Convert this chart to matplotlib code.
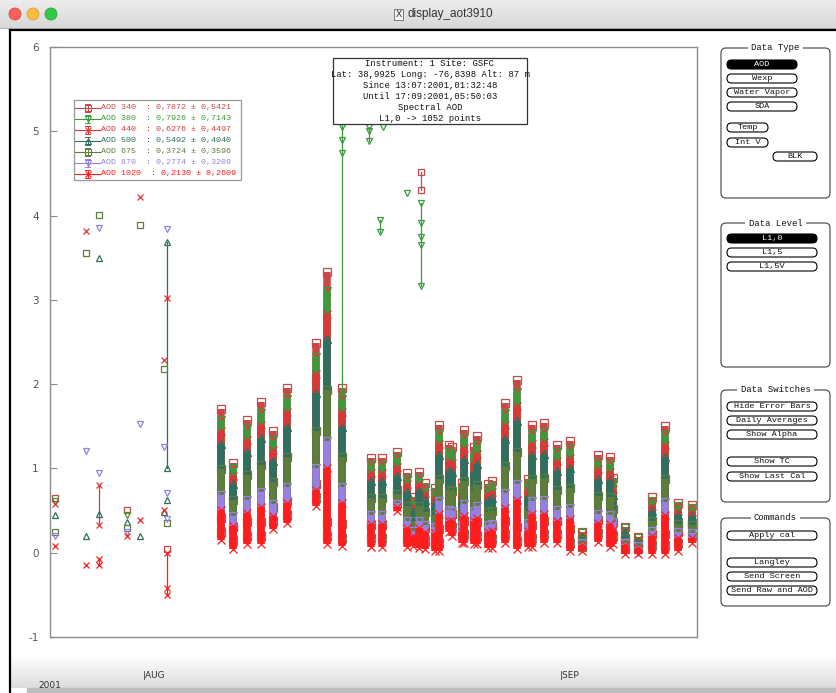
import numpy as np
import matplotlib.pyplot as plt
from matplotlib.patches import Rectangle, FancyBboxPatch, Circle
from matplotlib.colors import LinearSegmentedColormap
from matplotlib.transforms import blended_transform_factory

plt.rcParams['axes.unicode_minus'] = False

# channels, colours and markers as in the aot display
wavelengths = [340, 380, 440, 500, 675, 870, 1020]
colors = ['#c84848', '#3c9a3c', '#d83838', '#2f6f5f', '#5e7d3c', '#9880e0', '#ff1c1c']
markers = ['s', 'v', 'x', '^', 's', 'v', 'x']
aod_mean = [0.7872, 0.7926, 0.6276, 0.5492, 0.3724, 0.2774, 0.2130]
aod_std = [0.5421, 0.7143, 0.4497, 0.4040, 0.3596, 0.3209, 0.2609]

# day of year of each daily block of measurements (2001)
days = [218.80, 219.69, 220.73, 221.77, 222.67, 223.71, 225.86, 226.68, 227.80,
        229.95, 230.77, 231.88, 232.63, 233.07, 233.52, 233.97, 234.71, 235.01,
        235.75, 235.97, 236.72, 236.87, 237.61, 237.83, 238.65, 238.95, 239.91,
        240.81, 241.62, 241.92, 242.81, 243.78, 244.75, 245.64, 246.83, 247.72,
        247.94, 248.84, 249.80, 250.84, 251.81, 252.78, 253.82]

# highest aod of the day, per channel
top_340 = [1.70, 1.07, 1.58, 1.79, 1.44, 1.96, 2.49, 3.33, 1.96, 1.12, 1.12, 1.20, 0.95, 0.66, 0.96,
           0.83, 0.77, 1.52, 1.28, 1.26, 0.83, 1.46, 1.26, 1.38, 0.82, 0.85, 1.78, 2.05, 0.87, 1.52,
           1.54, 1.28, 1.32, 0.25, 1.16, 1.13, 0.89, 0.31, 0.19, 0.66, 1.50, 0.59, 0.57]
top_380 = [1.58, 1.00, 1.47, 1.66, 1.34, 1.82, 2.32, 3.10, 1.82, 1.04, 1.04, 1.12, 0.88, 0.61, 0.89,
           0.77, 0.72, 1.41, 1.19, 1.17, 0.77, 1.36, 1.17, 1.28, 0.76, 0.79, 1.66, 1.91, 0.81, 1.41,
           1.43, 1.19, 1.23, 0.23, 1.08, 1.05, 0.83, 0.29, 0.18, 0.61, 1.40, 0.55, 0.53]
top_440 = [1.45, 0.91, 1.34, 1.52, 1.22, 1.67, 2.12, 2.83, 1.67, 0.95, 0.95, 1.02, 0.81, 0.56, 0.82,
           0.71, 0.65, 1.29, 1.09, 1.07, 0.71, 1.24, 1.07, 1.17, 0.70, 0.72, 1.51, 1.74, 0.74, 1.29,
           1.31, 1.09, 1.12, 0.21, 0.99, 0.96, 0.76, 0.26, 0.16, 0.56, 1.28, 0.50, 0.48]
top_500 = [1.29, 0.81, 1.20, 1.36, 1.09, 1.49, 1.89, 2.53, 1.49, 0.85, 0.85, 0.91, 0.72, 0.50, 0.73,
           0.63, 0.59, 1.16, 0.97, 0.96, 0.63, 1.11, 0.96, 1.05, 0.62, 0.65, 1.35, 1.56, 0.66, 1.16,
           1.17, 0.97, 1.00, 0.19, 0.88, 0.86, 0.68, 0.24, 0.14, 0.50, 1.14, 0.45, 0.43]
top_675 = [0.99, 0.62, 0.92, 1.04, 0.84, 1.14, 1.44, 1.93, 1.14, 0.65, 0.65, 0.70, 0.55, 0.38, 0.56,
           0.48, 0.45, 0.88, 0.74, 0.73, 0.48, 0.85, 0.73, 0.80, 0.48, 0.49, 1.03, 1.19, 0.50, 0.88,
           0.89, 0.74, 0.77, 0.15, 0.67, 0.66, 0.52, 0.18, 0.11, 0.38, 0.87, 0.34, 0.33]
top_870 = [0.68, 0.43, 0.63, 0.72, 0.58, 0.78, 1.00, 1.33, 0.78, 0.45, 0.45, 0.58, 0.38, 0.26, 0.38,
           0.33, 0.31, 0.61, 0.51, 0.50, 0.33, 0.58, 0.50, 0.55, 0.33, 0.34, 0.71, 0.82, 0.35, 0.61,
           0.62, 0.51, 0.53, 0.11, 0.46, 0.45, 0.36, 0.12, 0.08, 0.26, 0.60, 0.24, 0.23]
top_1020 = [0.51, 0.32, 0.47, 0.54, 0.43, 0.59, 0.75, 1.00, 0.59, 0.34, 0.34, 0.54, 0.29, 0.20, 0.29,
            0.25, 0.23, 0.46, 0.38, 0.38, 0.25, 0.44, 0.38, 0.41, 0.25, 0.26, 0.53, 0.62, 0.26, 0.46,
            0.46, 0.38, 0.40, 0.09, 0.35, 0.34, 0.27, 0.09, 0.06, 0.20, 0.45, 0.18, 0.17]

# lowest aod of the day, per channel
low_340 = [0.41, 0.31, 0.36, 0.36, 0.54, 0.61, 0.81, 0.36, 0.34, 0.33, 0.33, 0.75, 0.33, 0.30, 0.32,
           0.29, 0.26, 0.28, 0.50, 0.46, 0.38, 0.38, 0.36, 0.36, 0.32, 0.32, 0.38, 0.30, 0.33, 0.33,
           0.38, 0.38, 0.28, 0.14, 0.39, 0.33, 0.36, 0.14, 0.10, 0.22, 0.22, 0.25, 0.35]
low_380 = [0.38, 0.28, 0.33, 0.33, 0.51, 0.58, 0.78, 0.33, 0.31, 0.30, 0.30, 0.72, 0.30, 0.28, 0.29,
           0.26, 0.23, 0.25, 0.47, 0.43, 0.35, 0.35, 0.33, 0.33, 0.29, 0.29, 0.35, 0.27, 0.30, 0.30,
           0.35, 0.35, 0.25, 0.13, 0.36, 0.30, 0.33, 0.12, 0.09, 0.19, 0.19, 0.22, 0.32]
low_440 = [0.34, 0.24, 0.29, 0.29, 0.47, 0.54, 0.74, 0.29, 0.27, 0.26, 0.26, 0.68, 0.26, 0.25, 0.25,
           0.23, 0.20, 0.21, 0.43, 0.39, 0.31, 0.31, 0.29, 0.29, 0.25, 0.25, 0.31, 0.23, 0.26, 0.26,
           0.31, 0.31, 0.21, 0.11, 0.32, 0.26, 0.29, 0.10, 0.08, 0.16, 0.16, 0.19, 0.28]
low_500 = [0.30, 0.20, 0.25, 0.25, 0.43, 0.50, 0.70, 0.25, 0.23, 0.22, 0.22, 0.64, 0.22, 0.21, 0.21,
           0.19, 0.16, 0.17, 0.39, 0.35, 0.27, 0.27, 0.25, 0.25, 0.21, 0.21, 0.27, 0.19, 0.22, 0.22,
           0.27, 0.27, 0.17, 0.09, 0.28, 0.22, 0.25, 0.08, 0.06, 0.13, 0.13, 0.16, 0.24]
low_675 = [0.25, 0.15, 0.20, 0.20, 0.38, 0.45, 0.65, 0.20, 0.18, 0.17, 0.17, 0.59, 0.17, 0.17, 0.16,
           0.14, 0.11, 0.12, 0.34, 0.30, 0.22, 0.22, 0.20, 0.20, 0.16, 0.16, 0.22, 0.14, 0.17, 0.17,
           0.22, 0.22, 0.12, 0.07, 0.23, 0.17, 0.20, 0.05, 0.04, 0.09, 0.09, 0.12, 0.20]
low_870 = [0.20, 0.10, 0.15, 0.15, 0.33, 0.40, 0.60, 0.15, 0.13, 0.12, 0.12, 0.54, 0.12, 0.12, 0.11,
           0.10, 0.07, 0.07, 0.29, 0.25, 0.17, 0.17, 0.15, 0.15, 0.11, 0.11, 0.17, 0.09, 0.12, 0.12,
           0.17, 0.17, 0.07, 0.04, 0.18, 0.12, 0.15, 0.02, 0.01, 0.04, 0.04, 0.07, 0.16]
low_1020 = [0.15, 0.05, 0.10, 0.10, 0.28, 0.35, 0.55, 0.10, 0.08, 0.07, 0.07, 0.49, 0.07, 0.08, 0.06,
            0.05, 0.02, 0.02, 0.24, 0.20, 0.12, 0.12, 0.10, 0.10, 0.06, 0.06, 0.12, 0.04, 0.07, 0.07,
            0.12, 0.12, 0.02, 0.02, 0.13, 0.07, 0.10, -0.01, -0.01, -0.01, -0.01, 0.02, 0.12]

# scattered readings (cloud contaminated), each inner list is one connected run
loose_340 = [[(206.46, 0.65)], [(211.81, 0.51)], [(214.78, 0.04)],
             [(233.67, 4.52), (233.67, 4.30)]]
loose_380 = [[(206.46, 0.61)], [(211.81, 0.45)],
             [(227.80, 1.90), (227.80, 4.74), (227.80, 4.90), (227.80, 5.05), (227.80, 5.70)],
             [(229.80, 5.05), (229.80, 5.00), (229.80, 4.88)],
             [(230.62, 3.95), (230.62, 3.80)], [(230.85, 5.05)], [(232.63, 4.27)],
             [(233.67, 4.15), (233.67, 3.91), (233.67, 3.75), (233.67, 3.65), (233.67, 3.16)]]
loose_440 = [[(206.46, 0.58)], [(208.76, 3.82)], [(209.73, 0.80), (209.73, 0.33)],
             [(212.78, 4.22)], [(214.56, 2.29)]]
loose_500 = [[(206.46, 0.45)], [(208.76, 0.20)], [(209.73, 3.50)], [(209.73, 0.46)],
             [(211.81, 0.37)], [(212.78, 0.20)], [(214.56, 0.48)],
             [(214.78, 3.69), (214.78, 1.00)], [(214.78, 0.63)]]
loose_675 = [[(206.46, 0.25)], [(208.76, 3.56)], [(209.73, 4.01)], [(211.81, 0.29)],
             [(212.78, 3.89)], [(214.56, 2.18)], [(214.78, 0.35)]]
loose_870 = [[(206.46, 0.20)], [(208.76, 1.21)], [(209.73, 3.85)], [(209.73, 0.95)],
             [(211.81, 0.24)], [(212.78, 1.53)], [(214.56, 1.26)], [(214.78, 3.84)],
             [(214.78, 0.71)], [(214.78, 0.40)]]
loose_1020 = [[(206.46, 0.08)], [(208.76, -0.15)], [(209.73, -0.08), (209.73, -0.14)],
              [(211.81, 0.20)], [(212.78, 0.39)], [(214.56, 0.51)], [(214.78, 3.02)],
              [(214.78, 0.00), (214.78, -0.42), (214.78, -0.50)]]

tops = [top_340, top_380, top_440, top_500, top_675, top_870, top_1020]
lows = [low_340, low_380, low_440, low_500, low_675, low_870, low_1020]
loose = [loose_340, loose_380, loose_440, loose_500, loose_675, loose_870, loose_1020]

mono = 'Liberation Mono'
W, H = 837, 693

fig = plt.figure(figsize=(W / 100, H / 100), dpi=100)
fig.patch.set_facecolor('white')
ax = fig.add_axes([50 / W, 1 - 637 / H, 647 / W, 590 / H])

for k in range(len(wavelengths)):
    c = colors[k]
    for i, d in enumerate(days):
        ax.plot([d, d], [lows[k][i], tops[k][i]], color=c, lw=5.4,
                solid_capstyle='butt', zorder=2)
        ax.plot([d, d], [lows[k][i], tops[k][i]], ls='none', marker=markers[k], ms=5.5,
                mfc='none', mec=c, mew=0.9, zorder=2)
    for run in loose[k]:
        xs = [p[0] for p in run]
        ys = [p[1] for p in run]
        ax.plot(xs, ys, color=c, lw=0.9, marker=markers[k], ms=5, mfc='none',
                mec=c, mew=0.9, zorder=2)

ax.set_xlim(206.09, 254.19)
ax.set_ylim(-1, 6)
ax.set_xticks([])
ax.set_yticks(range(-1, 7))
ax.tick_params(axis='y', direction='in', length=5, color='#888888',
               labelcolor='#555555', labelsize=7.5, pad=8)
for s in ax.spines.values():
    s.set_color('#8c8c8c')
    s.set_linewidth(1)

# window chrome, legend, info box and side panel drawn in pixel units
ui = fig.add_axes([0, 0, 1, 1], zorder=5)
ui.patch.set_alpha(0)
ui.axis('off')

bar = LinearSegmentedColormap.from_list('bar', ['#ededed', '#d8d8d8'])
ui.imshow(np.linspace(0, 1, 50)[:, None], extent=(0, W, 28, 0), cmap=bar, aspect='auto', zorder=0)
fade = LinearSegmentedColormap.from_list('fade', ['#ffffff', '#dcdcdc'])
ui.imshow(np.linspace(0, 1, 50)[:, None], extent=(10, W, 688, 655), cmap=fade, aspect='auto', zorder=0)
ui.add_patch(Rectangle((27, 688), W - 27, 6, color='#bdbdbd', zorder=1))
ui.set_xlim(0, W)
ui.set_ylim(H, 0)

ui.plot([0, W], [28, 28], color='#b5b5b5', lw=0.8)
ui.plot([10, W], [29.5, 29.5], color='black', lw=1.6)
ui.plot([10, 10], [29.5, H], color='black', lw=1.6)

for cx, col, ec in [(15, '#fc605c', '#de4a44'), (33, '#fdbc40', '#dea236'), (51, '#34c84a', '#28a83a')]:
    ui.add_patch(Circle((cx, 14), 6, fc=col, ec=ec, lw=0.6))
ui.add_patch(Rectangle((394, 9), 9, 11, fc='#f4f4f4', ec='#666666', lw=0.6))
ui.text(398.5, 14.5, 'X', ha='center', va='center', fontsize=6.5, color='#333333')
ui.text(408, 14, 'display_aot3910', ha='left', va='center', fontsize=8.5,
        family='Liberation Sans', color='#333333')

# legend with mean and spread of each channel
ui.add_patch(Rectangle((74, 100), 167, 80, fc='white', ec='#9a9a9a', lw=0.9))
for k, wl in enumerate(wavelengths):
    y = 107.5 + 11 * k
    c = colors[k]
    ui.plot([75, 100], [y, y], color=c, lw=0.8)
    ui.plot([88, 88], [y - 4, y + 4], color=c, lw=0.7)
    ui.plot([85.5, 90.5], [y - 4, y - 4], color=c, lw=0.7)
    ui.plot([85.5, 90.5], [y + 4, y + 4], color=c, lw=0.7)
    ui.plot([88], [y], marker=markers[k], ms=4.2, mfc='none', mec=c, mew=0.8)
    label = f'AOD {wl}  : {aod_mean[k]:.4f} ± {aod_std[k]:.4f}'.replace('.', ',')
    ui.text(101, y, label, ha='left', va='center', fontsize=6.0, family=mono, color=c)

# site information box
ui.add_patch(Rectangle((333, 58), 194, 66, fc='white', ec='#333333', lw=0.9))
info = ['Instrument: 1 Site: GSFC',
        'Lat: 38,9925 Long: -76,8398 Alt: 87 m',
        'Since 13:07:2001,01:32:48',
        'Until 17:09:2001,05:50:03',
        'Spectral AOD',
        'L1,0 -> 1052 points']
for j, line in enumerate(info):
    ui.text(430, 63.5 + 11 * j, line, ha='center', va='center', fontsize=6.4,
            family=mono, color='#111111')

# month marks under the time axis
tr = blended_transform_factory(ax.transData, ui.transData)
ui.text(213, 676, '|AUG', transform=tr, ha='left', va='center', fontsize=6.5, color='#333333')
ui.text(244, 676, '|SEP', transform=tr, ha='left', va='center', fontsize=6.5, color='#333333')
ui.text(38, 686, '2001', ha='left', va='center', fontsize=6.5, color='#333333')


def group(x0, y0, x1, y1, title):
    ui.add_patch(FancyBboxPatch((x0, y0), x1 - x0, y1 - y0,
                                boxstyle='round,pad=0,rounding_size=5',
                                fc='none', ec='#555555', lw=0.9))
    ui.text((x0 + x1) / 2, y0, title, ha='center', va='center', fontsize=6.4, family=mono,
            color='#111111', bbox=dict(fc='white', ec='none', pad=2.5))


def button(x0, y0, x1, y1, label, on=False):
    h = y1 - y0
    ui.add_patch(FancyBboxPatch((x0, y0), x1 - x0, h,
                                boxstyle=f'round,pad=0,rounding_size={h / 2}',
                                fc='black' if on else 'white', ec='black', lw=0.8))
    ui.text((x0 + x1) / 2, y0 + h / 2, label, ha='center', va='center', fontsize=6.1,
            family=mono, color='white' if on else '#111111')


group(721, 48, 830, 198, 'Data Type')
button(727, 60, 797, 69, 'AOD', on=True)
button(727, 74, 797, 83, 'Wexp')
button(727, 88, 797, 97, 'Water Vapor')
button(727, 102, 797, 111, 'SDA')
button(727, 123, 768, 132, 'Temp')
button(727, 138, 768, 147, 'Int V')
button(773, 152, 817, 161, 'BLK')

group(721, 223, 830, 367, 'Data Level')
button(727, 234, 817, 243, 'L1,0', on=True)
button(727, 248, 817, 257, 'L1,5')
button(727, 262, 817, 271, 'L1,5V')

group(721, 390, 830, 502, 'Data Switches')
button(727, 402, 817, 411, 'Hide Error Bars')
button(727, 416, 817, 425, 'Daily Averages')
button(727, 430, 817, 439, 'Show Alpha')
button(727, 457, 817, 466, 'Show TC')
button(727, 472, 817, 481, 'Show Last Cal')

group(721, 518, 830, 606, 'Commands')
button(727, 531, 817, 540, 'Apply cal')
button(727, 558, 817, 567, 'Langley')
button(727, 572, 817, 581, 'Send Screen')
button(727, 586, 817, 595, 'Send Raw and AOD')

fig.savefig('out.png', dpi=100)
